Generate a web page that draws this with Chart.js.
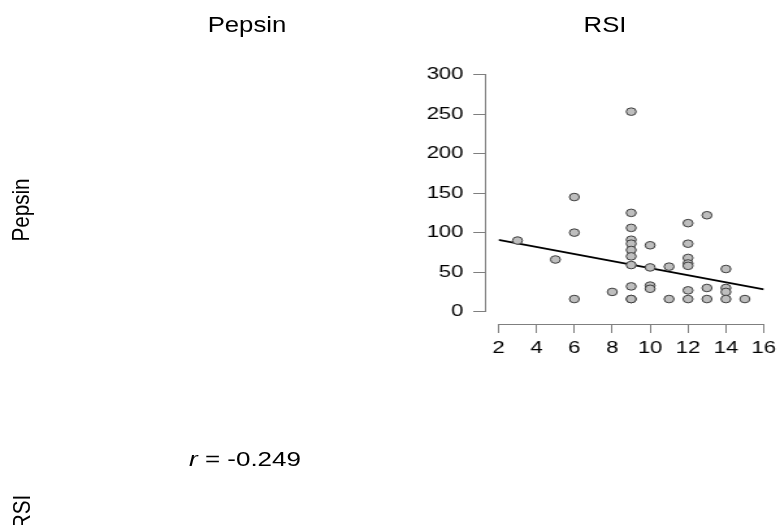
<!DOCTYPE html>
<html>
<head>
<meta charset="utf-8">
<script src="https://cdn.jsdelivr.net/npm/chart.js@4.4.1/dist/chart.umd.min.js"></script>
<style>
  html, body { margin: 0; padding: 0; background: #fff; }
  body { width: 782px; height: 525px; overflow: hidden; position: relative; font-family: "Liberation Sans", Arial, sans-serif; }
  /* the reference is stretched sideways, so the canvas is too */
  #wrap { position: absolute; left: 0; top: 0; width: 602px; height: 525px; transform: scaleX(1.3); transform-origin: 0 0; }
  .lbl { position: absolute; white-space: nowrap; line-height: 1; color: #000; }
</style>
</head>
<body>
<div id="wrap"><canvas id="corr" width="602" height="525"></canvas></div>

<div class="lbl" style="left:247px;top:25.4px;font-size:22px;transform:translate(-50%,-50%) scaleX(1.17)">Pepsin</div>
<div class="lbl" style="left:605px;top:25.4px;font-size:22px;transform:translate(-50%,-50%) scaleX(1.17)">RSI</div>
<div class="lbl" style="left:20.5px;top:210px;font-size:22px;transform:translate(-50%,-50%) rotate(-90deg) scale(0.94,1.08)">Pepsin</div>
<div class="lbl" style="left:22px;top:512px;font-size:22px;transform:translate(-50%,-50%) rotate(-90deg) scale(0.94,1.08)">RSI</div>
<div class="lbl" style="left:245px;top:458.5px;font-size:20px;transform:translate(-50%,-50%) scaleX(1.3)"><i>r</i> = -0.249</div>

<script>
// =================== DATA ===================
const rsi = [3, 5, 6, 6, 6, 8, 9, 9, 9, 9, 9, 9, 9, 9, 9, 9, 9, 10, 10, 10, 10, 11, 11,
  12, 12, 12, 12, 12, 12, 12, 13, 13, 13, 14, 14, 14, 14, 15];
const pepsin = [90, 66, 145, 100, 16, 25, 253, 125, 106, 91, 86, 78, 70, 59, 32, 16, 16, 84, 56, 33, 29, 57, 16,
  112, 86, 68, 61, 58, 27, 16, 122, 30, 16, 54, 30, 25, 16, 16];

// fitted line at both ends
const fitX = [2, 16];
const fitY = [90.8, 28.3];

const xTicks = [2, 4, 6, 8, 10, 12, 14, 16];
const yTicks = [0, 50, 100, 150, 200, 250, 300];

const axisGrey = "#7f7f7f";
const tickFont = { family: "'Liberation Sans', Arial, sans-serif", size: 17 };

new Chart(document.getElementById("corr"), {
  type: "scatter",
  data: {
    datasets: [
      {
        data: rsi.map((x, i) => ({ x: x, y: pepsin[i] })),
        pointRadius: 3.8,
        pointBackgroundColor: "#bebebe",
        pointBorderColor: "#3c3c3c",
        pointBorderWidth: 1,
        order: 1
      },
      {
        data: fitX.map((x, i) => ({ x: x, y: fitY[i] })),
        showLine: true,
        borderColor: "#000",
        borderWidth: 1.8,
        pointRadius: 0,
        order: 2
      }
    ]
  },
  options: {
    responsive: false,
    animation: false,
    layout: { padding: { left: 323.5, right: 11.5, top: 74.5, bottom: 213.3 } },
    scales: {
      x: {
        type: "linear",
        min: 2,
        max: 16,
        position: { y: -16.8 },
        afterBuildTicks: s => { s.ticks = xTicks.map(v => ({ value: v })); },
        grid: { drawOnChartArea: false, drawTicks: true, tickLength: 8, color: axisGrey },
        border: { color: axisGrey, width: 1 },
        ticks: { font: tickFont, color: "#000", padding: 5, maxRotation: 0, autoSkip: false }
      },
      // offset R-style axis: line and tick marks only
      y: {
        type: "linear",
        min: 0,
        max: 300,
        position: { x: 1.34 },
        afterBuildTicks: s => { s.ticks = yTicks.map(v => ({ value: v })); },
        grid: { drawOnChartArea: false, drawTicks: true, tickLength: 9, color: axisGrey },
        border: { color: axisGrey, width: 1 },
        ticks: { font: tickFont, color: "rgba(0,0,0,0)", autoSkip: false }
      },
      // labels for the y axis
      yl: {
        type: "linear",
        min: 0,
        max: 300,
        position: "left",
        afterBuildTicks: s => { s.ticks = yTicks.map(v => ({ value: v })); },
        afterFit: s => { s.width = 60; },
        grid: { display: false, drawTicks: false },
        border: { display: false },
        ticks: { font: tickFont, color: "#000", padding: 27, autoSkip: false }
      }
    },
    plugins: {
      legend: { display: false },
      tooltip: { enabled: false }
    }
  }
});
</script>
</body>
</html>
